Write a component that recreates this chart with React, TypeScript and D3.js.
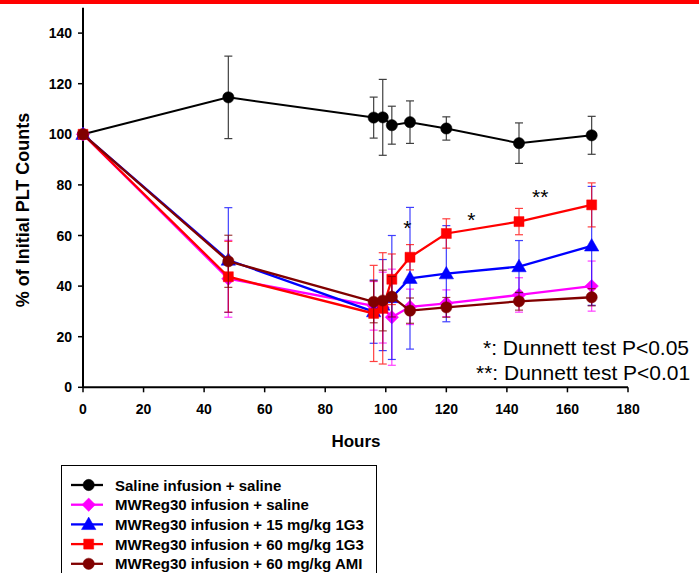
import React from "react";
import * as d3 from "d3";

// Sampling times (hours after infusion start)
const HOURS = [0, 48, 96, 99, 102, 108, 120, 144, 168];

// Mean platelet count (% of initial) and error bar half-widths per group
const salineSalineMean = [100, 114.6, 106.6, 106.7, 103.6, 104.8, 102.3, 96.5, 99.6];
const salineSalineErr = [0, 16.3, 8.1, 15, 7.5, 8.4, 4.6, 8, 7.5];

const mwSalineMean = [100, 42.9, 32.2, 31.5, 27.7, 31.8, 33.2, 36.5, 40];
const mwSalineErr = [0, 15.2, 9.6, 14, 19, 7, 5.3, 6.8, 9.9];

const mw15Mean = [100, 50.3, 29.9, 32.5, 35.5, 43.1, 44.9, 47.7, 55.9];
const mw15Err = [0, 20.7, 12.5, 18, 24.5, 28, 19, 10.3, 23.5];

const mw60Mean = [100, 43.7, 29.2, 31.2, 42.7, 51.4, 60.8, 65.5, 72.1];
const mw60Err = [0, 14, 19, 22, 10, 5, 5.8, 5.2, 8.7];

const mwAmiMean = [100, 49.8, 33.8, 34.3, 35.8, 30.3, 31.6, 34, 35.6];
const mwAmiErr = [0, 10.3, 8.3, 12, 8, 5, 3.9, 3.5, 3.4];

const SERIES_NAMES = [
  "Saline infusion + saline",
  "MWReg30 infusion + saline",
  "MWReg30 infusion + 15 mg/kg 1G3",
  "MWReg30 infusion + 60 mg/kg 1G3",
  "MWReg30 infusion + 60 mg/kg AMI",
];

const X_TICKS = [0, 20, 40, 60, 80, 100, 120, 140, 160, 180];
const Y_TICKS = [0, 20, 40, 60, 80, 100, 120, 140];

// Significance marks: [hour, value, label]
const SIG_MARKS: [number, number, string][] = [
  [107.1, 64.8, "*"],
  [128.3, 68.1, "*"],
  [151, 77.3, "**"],
];

const NOTE_LINES = ["*: Dunnett test P<0.05", "**: Dunnett test P<0.01"];

type Shape = "circle" | "diamond" | "triangle" | "square";

const seriesList = [
  { name: SERIES_NAMES[0], mean: salineSalineMean, err: salineSalineErr, color: "#000000", shape: "circle" as Shape },
  { name: SERIES_NAMES[1], mean: mwSalineMean, err: mwSalineErr, color: "#FF00FF", shape: "diamond" as Shape },
  { name: SERIES_NAMES[2], mean: mw15Mean, err: mw15Err, color: "#0000FF", shape: "triangle" as Shape },
  { name: SERIES_NAMES[3], mean: mw60Mean, err: mw60Err, color: "#FF0000", shape: "square" as Shape },
  { name: SERIES_NAMES[4], mean: mwAmiMean, err: mwAmiErr, color: "#800000", shape: "circle" as Shape },
];

const W = 699;
const H = 573;
const FONT = "Arial, 'Liberation Sans', Helvetica, sans-serif";

const x = d3.scaleLinear().domain([0, 180]).range([83, 628]);
const y = d3.scaleLinear().domain([0, 150]).range([387.3, 7.8]);

// Square rotated 45 degrees, so the diamond is as wide as it is tall
const diamondType: d3.SymbolType = {
  draw(ctx, size) {
    const r = Math.sqrt(size / 2);
    ctx.moveTo(0, -r);
    ctx.lineTo(r, 0);
    ctx.lineTo(0, r);
    ctx.lineTo(-r, 0);
    ctx.closePath();
  },
};

function symbolPath(shape: Shape): string {
  const sym =
    shape === "circle"
      ? d3.symbolCircle
      : shape === "diamond"
      ? diamondType
      : shape === "triangle"
      ? d3.symbolTriangle
      : d3.symbolSquare;
  const size = shape === "circle" ? 100 : shape === "square" ? 100 : shape === "triangle" ? 90 : 90;
  return d3.symbol().type(sym).size(size)() || "";
}

function Marker({ shape, color, cx, cy }: { shape: Shape; color: string; cx: number; cy: number }) {
  const t = shape === "triangle" ? `translate(${cx},${cy + 1})` : `translate(${cx},${cy})`;
  return <path d={symbolPath(shape)} transform={t} fill={color} stroke={color} strokeWidth={0.5} />;
}

export default function App() {
  const line = d3
    .line<number>()
    .x((_, i) => x(HOURS[i]))
    .y((v) => y(v));

  return (
    <svg
      width={W}
      height={H}
      viewBox={`0 0 ${W} ${H}`}
      style={{ position: "absolute", left: 0, top: 0, background: "#fff" }}
      fontFamily={FONT}
    >
      <rect x={0} y={0} width={W} height={H} fill="#fff" />
      <rect x={0} y={0} width={W} height={4} fill="#FF0000" />

      {/* axes */}
      <line x1={x(0)} x2={x(0)} y1={y(150)} y2={y(0)} stroke="#000" strokeWidth={2} />
      <line x1={x(0)} x2={x(180)} y1={y(0)} y2={y(0)} stroke="#000" strokeWidth={2} />
      {Y_TICKS.map((t) => (
        <g key={`yt${t}`}>
          <line x1={x(0) - 5} x2={x(0)} y1={y(t)} y2={y(t)} stroke="#000" strokeWidth={1.5} />
          <text x={72} y={y(t) + 5} textAnchor="end" fontSize={14} fontWeight="bold" fill="#000">
            {t}
          </text>
        </g>
      ))}
      {X_TICKS.map((t) => (
        <g key={`xt${t}`}>
          <line x1={x(t)} x2={x(t)} y1={y(0)} y2={y(0) + 5} stroke="#000" strokeWidth={1.5} />
          <text x={x(t)} y={414} textAnchor="middle" fontSize={14} fontWeight="bold" fill="#000">
            {t}
          </text>
        </g>
      ))}
      <text x={356} y={447} textAnchor="middle" fontSize={17} fontWeight="bold" fill="#000">
        Hours
      </text>
      <text
        transform={`translate(29,210) rotate(-90)`}
        textAnchor="middle"
        fontSize={18}
        fontWeight="bold"
        fill="#000"
      >
        % of Initial PLT Counts
      </text>

      {/* series: error bars, line, markers */}
      {seriesList.map((s) => (
        <g key={s.name}>
          {s.mean.map((m, i) =>
            s.err[i] > 0 ? (
              <g key={`e${i}`} stroke={s.color} strokeWidth={1.2} opacity={0.75}>
                <line x1={x(HOURS[i])} x2={x(HOURS[i])} y1={y(m + s.err[i])} y2={y(m - s.err[i])} />
                <line x1={x(HOURS[i]) - 4} x2={x(HOURS[i]) + 4} y1={y(m + s.err[i])} y2={y(m + s.err[i])} />
                <line x1={x(HOURS[i]) - 4} x2={x(HOURS[i]) + 4} y1={y(m - s.err[i])} y2={y(m - s.err[i])} />
              </g>
            ) : null
          )}
          <path d={line(s.mean) || ""} fill="none" stroke={s.color} strokeWidth={s.color === "#000000" ? 2 : 2.3} />
          {s.mean.map((m, i) => (
            <Marker key={`m${i}`} shape={s.shape} color={s.color} cx={x(HOURS[i])} cy={y(m)} />
          ))}
        </g>
      ))}

      {/* significance marks */}
      {SIG_MARKS.map(([h, v, lbl], i) => (
        <text key={`sig${i}`} x={x(h)} y={y(v) + 12} textAnchor="middle" fontSize={21} fill="#000">
          {lbl}
        </text>
      ))}

      {/* test notes */}
      <text x={483} y={355} fontSize={21} fill="#000">
        {NOTE_LINES[0]}
      </text>
      <text x={476} y={380} fontSize={21} fill="#000">
        {NOTE_LINES[1]}
      </text>

      {/* legend */}
      <rect x={61.5} y={465.5} width={315} height={120} fill="#fff" stroke="#000" strokeWidth={1} />
      {seriesList.map((s, i) => {
        const cy = 485 + i * 19.7;
        return (
          <g key={`lg${i}`}>
            <line x1={71} x2={103} y1={cy} y2={cy} stroke={s.color} strokeWidth={2.3} />
            <Marker shape={s.shape} color={s.color} cx={88.7} cy={cy} />
            <text x={115} y={cy + 5.5} fontSize={15} fontWeight="bold" fill="#000">
              {s.name}
            </text>
          </g>
        );
      })}
    </svg>
  );
}
